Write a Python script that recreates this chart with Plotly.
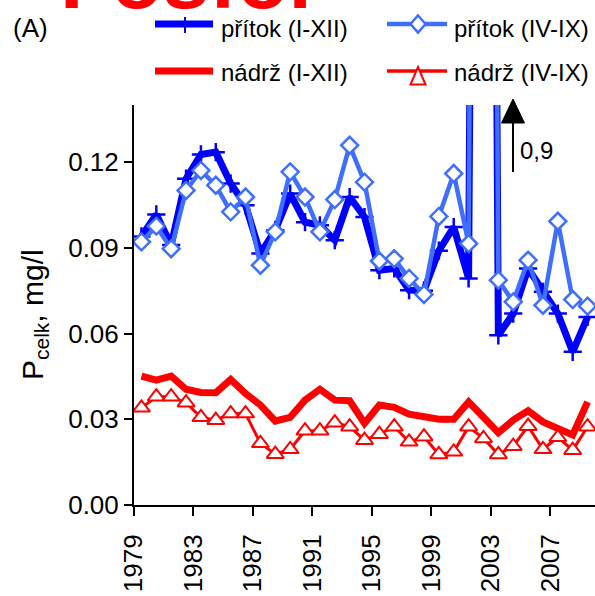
import plotly.graph_objects as go

years = list(range(1979, 2010))
pritok_I_XII = [0.094, 0.1017, 0.091, 0.1142, 0.1227, 0.1235, 0.1125, 0.1049, 0.088, 0.0962,
                0.109, 0.099, 0.0979, 0.0927, 0.1078, 0.1008, 0.0822, 0.0828, 0.0752, 0.075,
                0.089, 0.0973, 0.0793, 0.9, 0.0594, 0.067, 0.0828, 0.0746, 0.067, 0.0536, 0.0658]
pritok_IV_IX = [0.0921, 0.0976, 0.0897, 0.1101, 0.1171, 0.1119, 0.1026, 0.1078, 0.0839, 0.0956,
                0.1166, 0.1078, 0.0956, 0.1069, 0.1259, 0.113, 0.0854, 0.0862, 0.0793, 0.0737,
                0.101, 0.116, 0.0915, 0.9, 0.0787, 0.0711, 0.0857, 0.0699, 0.0993, 0.0719, 0.0696]
nadrz_I_XII = [0.0451, 0.0437, 0.0451, 0.0405, 0.0394, 0.0393, 0.0439, 0.039, 0.035, 0.0294,
               0.0307, 0.0367, 0.0405, 0.0367, 0.0365, 0.0286, 0.035, 0.0342, 0.0318, 0.0309,
               0.030, 0.030, 0.0361, 0.0307, 0.0253, 0.0297, 0.033, 0.0291, 0.0268, 0.0245, 0.0361]
nadrz_IV_IX = [0.034, 0.0379, 0.0379, 0.0358, 0.0307, 0.0297, 0.032, 0.032, 0.0216, 0.0178,
               0.0195, 0.026, 0.026, 0.0288, 0.0274, 0.0227, 0.0248, 0.0274, 0.0221, 0.0239,
               0.0177, 0.0186, 0.0274, 0.0233, 0.0177, 0.0206, 0.0276, 0.0195, 0.0237, 0.0192, 0.0274]
tick_years = [1979, 1983, 1987, 1991, 1995, 1999, 2003, 2007]
y_ticks = [0.0, 0.03, 0.06, 0.09, 0.12]

DARK = "#0000ff"
LIGHT = "#3f6fff"
RED = "#ff0000"
FONT = "Liberation Sans"

# points sit in the middle of each year interval
xs = [y + 0.5 for y in years]

W, H = 595, 596
ML, MR, MT, MB = 134, 0, 105, 91
PW, PH = W - ML - MR, H - MT - MB


def px(xp):
    return (xp - ML) / PW


def py(yp):
    return (H - MB - yp) / PH


fig = go.Figure()
fig.add_trace(go.Scatter(x=xs, y=pritok_I_XII, mode="lines+markers", name="přítok (I-XII)",
                         line=dict(color=DARK, width=7),
                         marker=dict(symbol="cross-thin", size=13, line=dict(color=DARK, width=2.5))))
fig.add_trace(go.Scatter(x=xs, y=nadrz_I_XII, mode="lines", name="nádrž (I-XII)",
                         line=dict(color=RED, width=7)))
fig.add_trace(go.Scatter(x=xs, y=pritok_IV_IX, mode="lines+markers", name="přítok (IV-IX)",
                         line=dict(color=LIGHT, width=4.5),
                         marker=dict(symbol="diamond", size=13, color="white",
                                     line=dict(color=LIGHT, width=2.5))))
fig.add_trace(go.Scatter(x=xs, y=nadrz_IV_IX, mode="lines+markers", name="nádrž (IV-IX)",
                         line=dict(color=RED, width=3),
                         marker=dict(symbol="triangle-up", size=15, color="white",
                                     line=dict(color=RED, width=2))))

shapes = []
annotations = []

# manual legend
legend_rows = [
    (24, 28, DARK, 7, "cross", "přítok (I-XII)", LIGHT, 4.5, "diamond", "přítok (IV-IX)"),
    (71, 72, RED, 7, None, "nádrž (I-XII)", RED, 3.5, "triangle", "nádrž (IV-IX)"),
]
for ly, ty, c1, w1, m1, t1, c2, w2, m2, t2 in legend_rows:
    shapes.append(dict(type="line", xref="paper", yref="paper", x0=px(155), x1=px(213),
                       y0=py(ly), y1=py(ly), line=dict(color=c1, width=w1)))
    if m1 == "cross":
        shapes.append(dict(type="line", xref="paper", yref="paper", x0=px(185), x1=px(185),
                           y0=py(17), y1=py(33), line=dict(color=c1, width=2)))
    annotations.append(dict(text=t1, xref="paper", yref="paper", x=px(219), y=py(ty),
                            xanchor="left", yanchor="middle", showarrow=False,
                            font=dict(family=FONT, size=24, color="black")))
    shapes.append(dict(type="line", xref="paper", yref="paper", x0=px(387), x1=px(447),
                       y0=py(ly), y1=py(ly), line=dict(color=c2, width=w2)))
    if m2 == "diamond":
        shapes.append(dict(type="path", xref="paper", yref="paper", xsizemode="pixel",
                           ysizemode="pixel", xanchor=px(418), yanchor=py(ly),
                           path="M0,8.5 L7.5,0 L0,-8.5 L-7.5,0 Z", fillcolor="white",
                           line=dict(color=c2, width=2.5)))
    else:
        shapes.append(dict(type="path", xref="paper", yref="paper", xsizemode="pixel",
                           ysizemode="pixel", xanchor=px(418), yanchor=py(76),
                           path="M0,9 L7.5,-8.5 L-7.5,-8.5 Z", fillcolor="white",
                           line=dict(color=c2, width=2)))
    annotations.append(dict(text=t2, xref="paper", yref="paper", x=px(452), y=py(ty),
                            xanchor="left", yanchor="middle", showarrow=False,
                            font=dict(family=FONT, size=24, color="black")))

# panel label and cut-off heading
annotations.append(dict(text="(A)", xref="paper", yref="paper", x=px(11), y=py(28),
                        xanchor="left", yanchor="middle", showarrow=False,
                        font=dict(family=FONT, size=26, color="black")))
annotations.append(dict(text="<b>Fosfor</b>", xref="paper", yref="paper", x=px(58), y=py(28),
                        xanchor="left", yanchor="bottom", showarrow=False,
                        font=dict(family=FONT, size=84, color=RED)))
# y-axis title
annotations.append(dict(text="P<sub>celk</sub>, mg/l", xref="paper", yref="paper",
                        x=px(34), y=py(315), textangle=-90, xanchor="center", yanchor="middle",
                        showarrow=False, font=dict(family=FONT, size=30, color="black")))
# off-scale marker: arrow (shaft + head) and label
shapes.append(dict(type="line", xref="paper", yref="paper", x0=px(513), x1=px(513),
                   y0=py(172), y1=py(120), line=dict(color="black", width=2)))
shapes.append(dict(type="path", xref="paper", yref="paper",
                   path=f"M{px(513)},{py(99)} L{px(524.5)},{py(123)} L{px(501.5)},{py(123)} Z",
                   fillcolor="black", line=dict(color="black", width=1)))
annotations.append(dict(text="0,9", xref="paper", yref="paper", x=px(518), y=py(150),
                        xanchor="left", yanchor="middle", showarrow=False,
                        font=dict(family=FONT, size=24, color="black")))

fig.update_layout(
    width=W, height=H, margin=dict(l=ML, r=MR, t=MT, b=MB),
    plot_bgcolor="white", paper_bgcolor="white", showlegend=False,
    font=dict(family=FONT, size=26, color="black"),
    shapes=shapes, annotations=annotations,
)
fig.update_xaxes(range=[1979, 2010], tickvals=tick_years, ticktext=[str(t) for t in tick_years],
                 tickangle=-90, ticks="outside", ticklen=9, tickwidth=2, tickcolor="black",
                 ticklabelstandoff=8,
                 showline=True, linecolor="black", linewidth=2, showgrid=False, zeroline=False,
                 tickfont=dict(family=FONT, size=26, color="black"))
fig.update_yaxes(range=[0, 0.14], tickvals=y_ticks, tickformat=".2f", ticks="outside",
                 ticklen=8, tickwidth=2, tickcolor="black", showline=True, linecolor="black",
                 linewidth=2, showgrid=False, zeroline=False,
                 tickfont=dict(family=FONT, size=26, color="black"))

fig.write_html("out.html")
